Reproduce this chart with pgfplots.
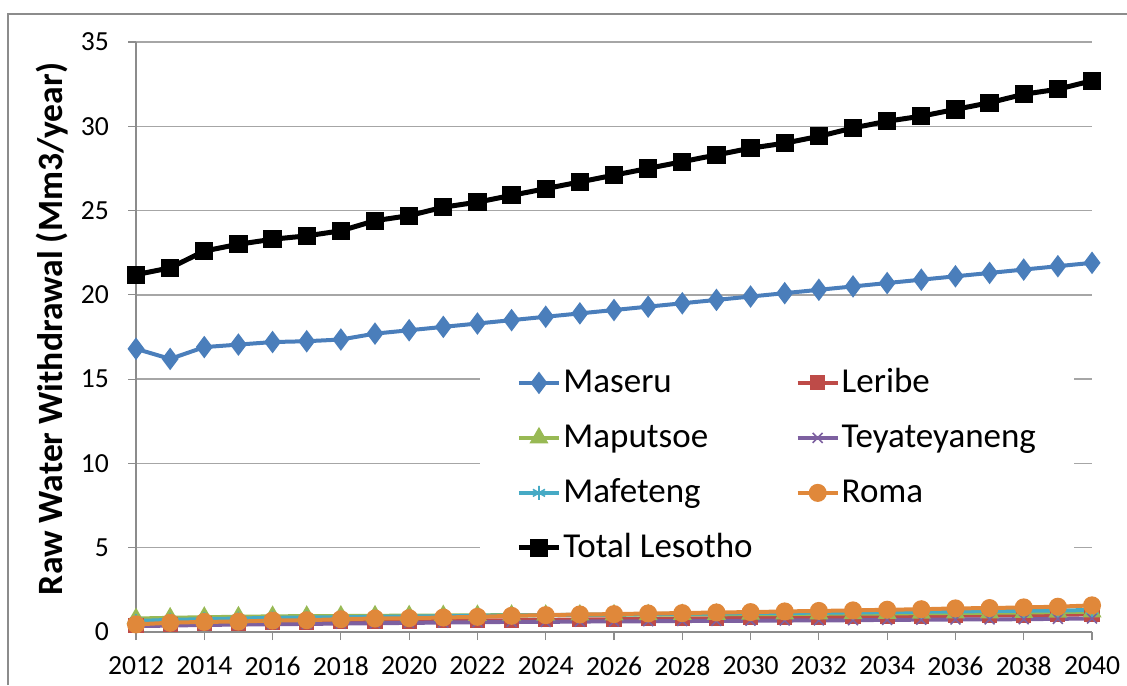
\documentclass[border=0pt]{standalone}
\usepackage{pgfplots}
\pgfplotsset{compat=1.18}
\usepackage{pgfplotstable}
\usepackage{fontspec}
\setmainfont{Carlito}
\definecolor{cMaseru}{HTML}{4A7EBB}
\definecolor{cLeribe}{HTML}{BE4B48}
\definecolor{cMaputsoe}{HTML}{98B954}
\definecolor{cTeya}{HTML}{7D60A0}
\definecolor{cMafeteng}{HTML}{46AAC5}
\definecolor{cRoma}{HTML}{E0883A}
\definecolor{cGrid}{HTML}{A6A6A6}
\definecolor{cAxis}{HTML}{8C8C8C}

\pgfplotstableread{
year Maseru Leribe Maputsoe Teya Mafeteng Roma Total
2012 16.8  0.40 0.80 0.35 0.65 0.45 21.2
2013 16.2  0.45 0.84 0.38 0.72 0.55 21.6
2014 16.9  0.50 0.88 0.42 0.76 0.60 22.6
2015 17.05 0.52 0.90 0.44 0.80 0.62 23.0
2016 17.2  0.55 0.93 0.46 0.84 0.68 23.3
2017 17.25 0.57 0.94 0.48 0.86 0.70 23.5
2018 17.35 0.60 0.95 0.50 0.88 0.76 23.8
2019 17.7  0.62 0.96 0.52 0.90 0.80 24.4
2020 17.9  0.64 0.97 0.54 0.92 0.82 24.7
2021 18.1  0.66 0.98 0.56 0.94 0.86 25.2
2022 18.3  0.68 0.99 0.58 0.96 0.90 25.5
2023 18.5  0.70 1.00 0.60 0.98 0.96 25.9
2024 18.7  0.72 1.00 0.60 1.00 1.00 26.3
2025 18.9  0.74 1.01 0.62 1.02 1.04 26.7
2026 19.1  0.76 1.02 0.63 1.04 1.06 27.1
2027 19.3  0.78 1.03 0.64 1.06 1.10 27.5
2028 19.5  0.80 1.04 0.65 1.08 1.12 27.9
2029 19.7  0.82 1.05 0.66 1.10 1.16 28.3
2030 19.9  0.84 1.06 0.67 1.12 1.18 28.7
2031 20.1  0.86 1.07 0.68 1.13 1.22 29.0
2032 20.3  0.88 1.08 0.69 1.15 1.25 29.4
2033 20.5  0.90 1.09 0.70 1.16 1.28 29.9
2034 20.7  0.92 1.10 0.72 1.18 1.32 30.3
2035 20.9  0.94 1.12 0.73 1.20 1.35 30.6
2036 21.1  0.96 1.13 0.74 1.22 1.40 31.0
2037 21.3  0.98 1.14 0.75 1.24 1.42 31.4
2038 21.5  1.00 1.16 0.76 1.26 1.46 31.9
2039 21.7  1.02 1.18 0.78 1.28 1.50 32.2
2040 21.9  1.05 1.20 0.80 1.30 1.58 32.7
}\datatable

\begin{document}
\begin{tikzpicture}
\useasboundingbox (0,0) rectangle (563.5pt,342.5pt);
\draw[cAxis, line width=0.6pt] (4pt,0) -- (4pt,335.5pt) -- (563.5pt,335.5pt);
\begin{axis}[
  at={(68pt,26.5pt)}, anchor=south west,
  scale only axis, width=478pt, height=295pt,
  xmin=2012, xmax=2040, ymin=0, ymax=35,
  xtick={2012,2014,...,2040},
  ytick={0,5,...,35},
  axis x line*=bottom, axis y line*=left,
  axis line style={cAxis, line width=0.6pt},
  every tick/.style={cAxis, line width=0.6pt},
  tick align=outside, major tick length=4pt,
  ymajorgrids, grid style={cGrid, line width=0.7pt},
  /pgf/number format/assume math mode=true,
  xticklabel style={/pgf/number format/1000 sep={}, font=\fontsize{13.8}{15}\selectfont, yshift=-5pt},
  yticklabel style={font=\fontsize{13.8}{15}\selectfont, xshift=-6pt},
  ylabel={\bfseries Raw Water Withdrawal (Mm3/year)},
  every axis y label/.style={at={(axis description cs:-0.088,0.5136)}, rotate=90, anchor=center, font=\fontsize{17.8}{19}\selectfont},
  clip=false,
  legend columns=2,
  legend cell align=left,
  legend image code/.code={\draw[mark repeat=2,mark phase=2,#1] plot coordinates {(0pt,0pt)(10pt,0pt)(20pt,0pt)};},
  legend style={at={(axis description cs:0.3599,0.4763)}, anchor=north west,
    draw=none, fill=white, inner xsep=18pt, inner ysep=6pt,
    font=\fontsize{17.5}{19}\selectfont,
    row sep=8pt,
    nodes={inner xsep=1pt, inner ysep=2pt, text height=12.5pt, text depth=3pt},
    /tikz/every even column/.append style={column sep=20.5pt}},
]
\addplot[cMaseru, line width=2pt, mark=diamond*, mark size=4pt] table[x=year,y=Maseru]{\datatable};
\addlegendentry{Maseru}
\addplot[cLeribe, line width=2pt, mark=square*, mark size=2.8pt] table[x=year,y=Leribe]{\datatable};
\addlegendentry{Leribe}
\addplot[cMaputsoe, line width=2pt, mark=triangle*, mark size=3.5pt] table[x=year,y=Maputsoe]{\datatable};
\addlegendentry{Maputsoe}
\addplot[cTeya, line width=2pt, mark=x, mark size=3.5pt, mark options={line width=0.8pt}] table[x=year,y=Teya]{\datatable};
\addlegendentry{Teyateyaneng}
\addplot[cMafeteng, line width=2pt, mark=asterisk, mark size=3.5pt, mark options={line width=0.8pt}] table[x=year,y=Mafeteng]{\datatable};
\addlegendentry{Mafeteng}
\addplot[cRoma, line width=2pt, mark=*, mark size=3.5pt] table[x=year,y=Roma]{\datatable};
\addlegendentry{Roma}
\addplot[black, line width=2.5pt, mark=square*, mark size=3.3pt] table[x=year,y=Total]{\datatable};
\addlegendentry{Total Lesotho}
\end{axis}
\end{tikzpicture}
\end{document}
